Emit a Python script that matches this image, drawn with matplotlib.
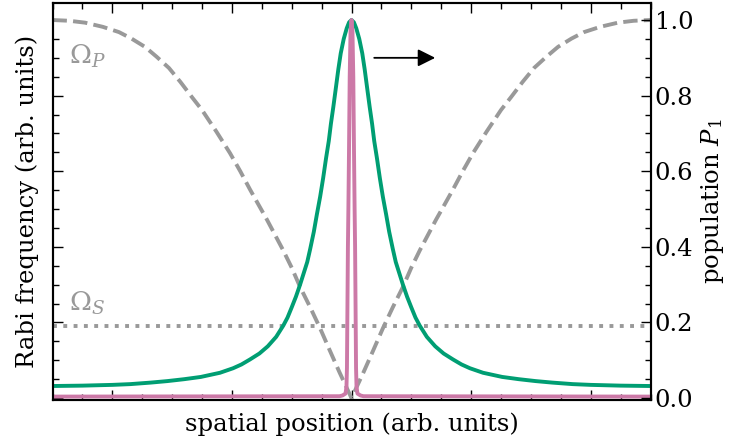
import matplotlib
matplotlib.use("Agg")
import matplotlib.pyplot as plt
from matplotlib.ticker import MultipleLocator, NullFormatter

# ---------------- data ----------------
# pump Rabi frequency Omega_P (dashed), symmetric about x = 0
omega_p_x_half = [0.0, 0.05, 0.10, 0.18, 0.263, 0.345, 0.43, 0.50, 0.573,
                  0.64, 0.707, 0.78, 0.849, 0.93, 1.016, 1.13, 1.25, 1.334,
                  1.43, 1.526, 1.63, 1.727, 1.84, 1.944, 2.08, 2.228, 2.36,
                  2.5]
omega_p_y_half = [0.0, 0.034, 0.068, 0.125, 0.185, 0.24, 0.294, 0.345, 0.392,
                  0.432, 0.472, 0.513, 0.552, 0.60, 0.648, 0.705, 0.762, 0.796,
                  0.836, 0.873, 0.903, 0.929, 0.951, 0.968, 0.982, 0.993, 0.998,
                  1.0]

# Stokes Rabi frequency Omega_S (dotted)
omega_s_x = [-2.5, 2.5]
omega_s_y = [0.19, 0.19]

# green curve (broad peak)
green_x_half = [0.0, 0.02, 0.04, 0.065, 0.09, 0.11, 0.133, 0.152, 0.172, 0.19,
                0.213, 0.237, 0.262, 0.29, 0.315, 0.345, 0.37, 0.40, 0.43,
                0.465, 0.50, 0.535, 0.57, 0.63, 0.70, 0.77, 0.85, 0.92, 0.99,
                1.1, 1.26, 1.4, 1.54, 1.68, 1.85, 2.0, 2.25, 2.5]
green_y_half = [1.0, 0.994, 0.978, 0.95, 0.912, 0.87, 0.815, 0.77, 0.726, 0.68,
                0.634, 0.582, 0.533, 0.485, 0.44, 0.395, 0.36, 0.33, 0.300,
                0.268, 0.240, 0.213, 0.192, 0.162, 0.137, 0.118, 0.102, 0.089,
                0.079, 0.067, 0.056, 0.05, 0.045, 0.041, 0.037, 0.035, 0.033,
                0.032]

# pink curve (population P1, narrow spike)
pink_x_half = [0.0, 0.008, 0.015, 0.021, 0.026, 0.030, 0.035, 0.038, 0.042,
               0.05, 0.075, 0.1, 2.5]
pink_y_half = [1.0, 0.97, 0.85, 0.65, 0.5, 0.4, 0.2, 0.08, 0.03,
               0.012, 0.007, 0.005, 0.004]

ytick_labels = ["0.0", "0.2", "0.4", "0.6", "0.8", "1.0"]
ytick_values = [0.0, 0.2, 0.4, 0.6, 0.8, 1.0]


def mirror(xh, yh):
    xs = [-v for v in reversed(xh[1:])] + list(xh)
    ys = list(reversed(yh[1:])) + list(yh)
    return xs, ys


# ---------------- style ----------------
GRAY = "#999999"
GREEN = "#009E73"
PINK = "#CC79A7"
FS = 17.5

plt.rcParams["font.family"] = ["DejaVu Serif"]
plt.rcParams["mathtext.fontset"] = "dejavuserif"

fig = plt.figure(figsize=(7.32, 4.46), dpi=100)
ax = fig.add_axes([52.5 / 732, 46 / 446, 598 / 732, 397 / 446])

px, py = mirror(omega_p_x_half, omega_p_y_half)
ax.plot(px, py, color=GRAY, lw=2.8, ls="--", zorder=2)
ax.plot(omega_s_x, omega_s_y, color=GRAY, lw=2.8, ls=":", zorder=2)
gx, gy = mirror(green_x_half, green_y_half)
ax.plot(gx, gy, color=GREEN, lw=2.8, zorder=3)
kx, ky = mirror(pink_x_half, pink_y_half)
ax.plot(kx, ky, color=PINK, lw=2.8, zorder=4)

ax.set_xlim(-2.5, 2.5)
ax.set_ylim(-0.005, 1.045)

ax.xaxis.set_major_locator(MultipleLocator(1.0))
ax.xaxis.set_minor_locator(MultipleLocator(0.25))
ax.yaxis.set_major_locator(MultipleLocator(0.2))
ax.yaxis.set_minor_locator(MultipleLocator(0.05))
ax.xaxis.set_major_formatter(NullFormatter())
ax.yaxis.set_major_formatter(NullFormatter())
ax.tick_params(which="both", direction="in", top=True, bottom=True,
               left=True, right=False, labelleft=False, labelbottom=False)
ax.tick_params(which="major", length=7.5, width=1.0)
ax.tick_params(which="minor", length=4, width=1.0)
for s in ax.spines.values():
    s.set_linewidth(1.5)

ax.set_xlabel("spatial position (arb. units)", fontsize=FS, labelpad=9)
ax.set_ylabel("Rabi frequency (arb. units)", fontsize=FS, labelpad=10)

ax2 = ax.twinx()
ax2.set_ylim(ax.get_ylim())
ax2.set_yticks(ytick_values)
ax2.set_yticklabels(ytick_labels, fontsize=FS)
ax2.yaxis.set_minor_locator(MultipleLocator(0.05))
ax2.tick_params(which="both", direction="in", right=True)
ax2.tick_params(which="major", length=7.5, width=1.0, pad=3)
ax2.tick_params(which="minor", length=4, width=1.0)
ax2.set_ylabel("population $P_1$", fontsize=FS, labelpad=4)
for s in ax2.spines.values():
    s.set_linewidth(1.5)

# annotations
ax.text(-2.36, 0.885, r"$\Omega_P$", color=GRAY, fontsize=19, va="baseline")
ax.text(-2.36, 0.232, r"$\Omega_S$", color=GRAY, fontsize=19, va="baseline")
ax.annotate("", xy=(0.70, 0.90), xytext=(0.19, 0.90),
            arrowprops=dict(arrowstyle="-|>,head_length=0.7,head_width=0.35",
                            mutation_scale=15, lw=1.3, color="black",
                            shrinkA=0, shrinkB=0))

fig.savefig("out.png", dpi=100)
